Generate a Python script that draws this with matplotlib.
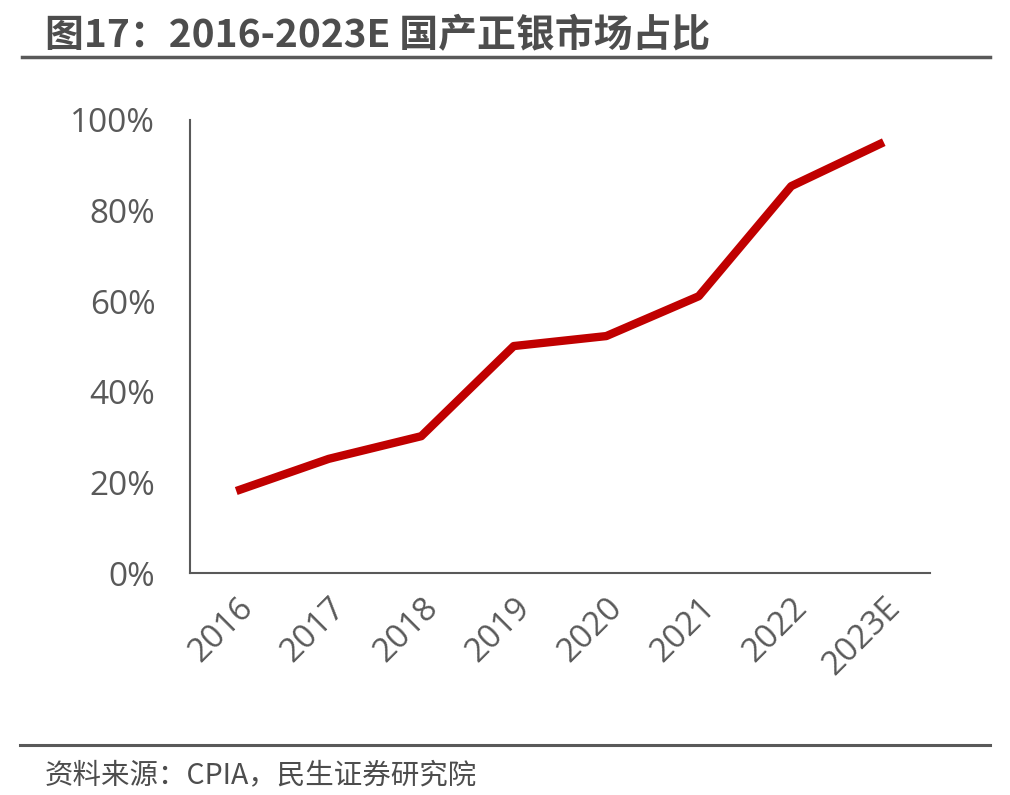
import matplotlib
matplotlib.use("Agg")
import matplotlib.pyplot as plt
from matplotlib.ticker import FuncFormatter

plt.rcParams['font.family'] = ['Open Sans', 'Noto Sans CJK SC', 'DejaVu Sans']

categories = ["2016", "2017", "2018", "2019", "2020", "2021", "2022", "2023E"]
share = [0.181, 0.252, 0.302, 0.501, 0.523, 0.611, 0.854, 0.951]
yticks = [0, 0.2, 0.4, 0.6, 0.8, 1.0]

fig = plt.figure(figsize=(10.10, 7.95), dpi=100)
ax = fig.add_axes([190/1010, 1-573/795, 740/1010, 453/795])

x = list(range(len(categories)))
ax.plot(x, share, color="#C00000", linewidth=6, solid_capstyle="butt")
ax.set_xlim(-0.5, len(categories)-0.5)
ax.set_ylim(0, 1.0)
ax.set_yticks(yticks)
ax.yaxis.set_major_formatter(FuncFormatter(lambda v, p: f"{v*100:.0f}%"))
ax.set_xticks(x)
ax.set_xticklabels(categories, rotation=45, ha="right", va="top", rotation_mode="anchor")

for s in ["top", "right"]:
    ax.spines[s].set_visible(False)
for s in ["left", "bottom"]:
    ax.spines[s].set_color("#595959")
    ax.spines[s].set_linewidth(1.5)
ax.tick_params(axis="both", length=0, labelsize=24, colors="#595959")
ax.tick_params(axis="y", pad=25)
ax.tick_params(axis="x", pad=13)

fig.text(45/1010, 1-47/795, "图17：2016-2023E 国产正银市场占比", fontsize=28, fontweight="bold",
         color="#4d4d4d", ha="left", va="baseline", family=['Noto Sans CJK SC', 'DejaVu Sans'])
fig.add_artist(plt.Line2D([22/1010, 990/1010], [1-57/795, 1-57/795], color="#595959", linewidth=2.5,
                          transform=fig.transFigure))
fig.add_artist(plt.Line2D([20/1010, 990/1010], [1-745/795, 1-745/795], color="#595959", linewidth=2.2,
                          transform=fig.transFigure))
fig.text(45/1010, 1-783/795, "资料来源：CPIA，民生证券研究院", fontsize=20.5, color="#4d4d4d",
         ha="left", va="baseline", family=['Noto Sans CJK SC', 'DejaVu Sans'])

fig.savefig("out.png", dpi=100)
